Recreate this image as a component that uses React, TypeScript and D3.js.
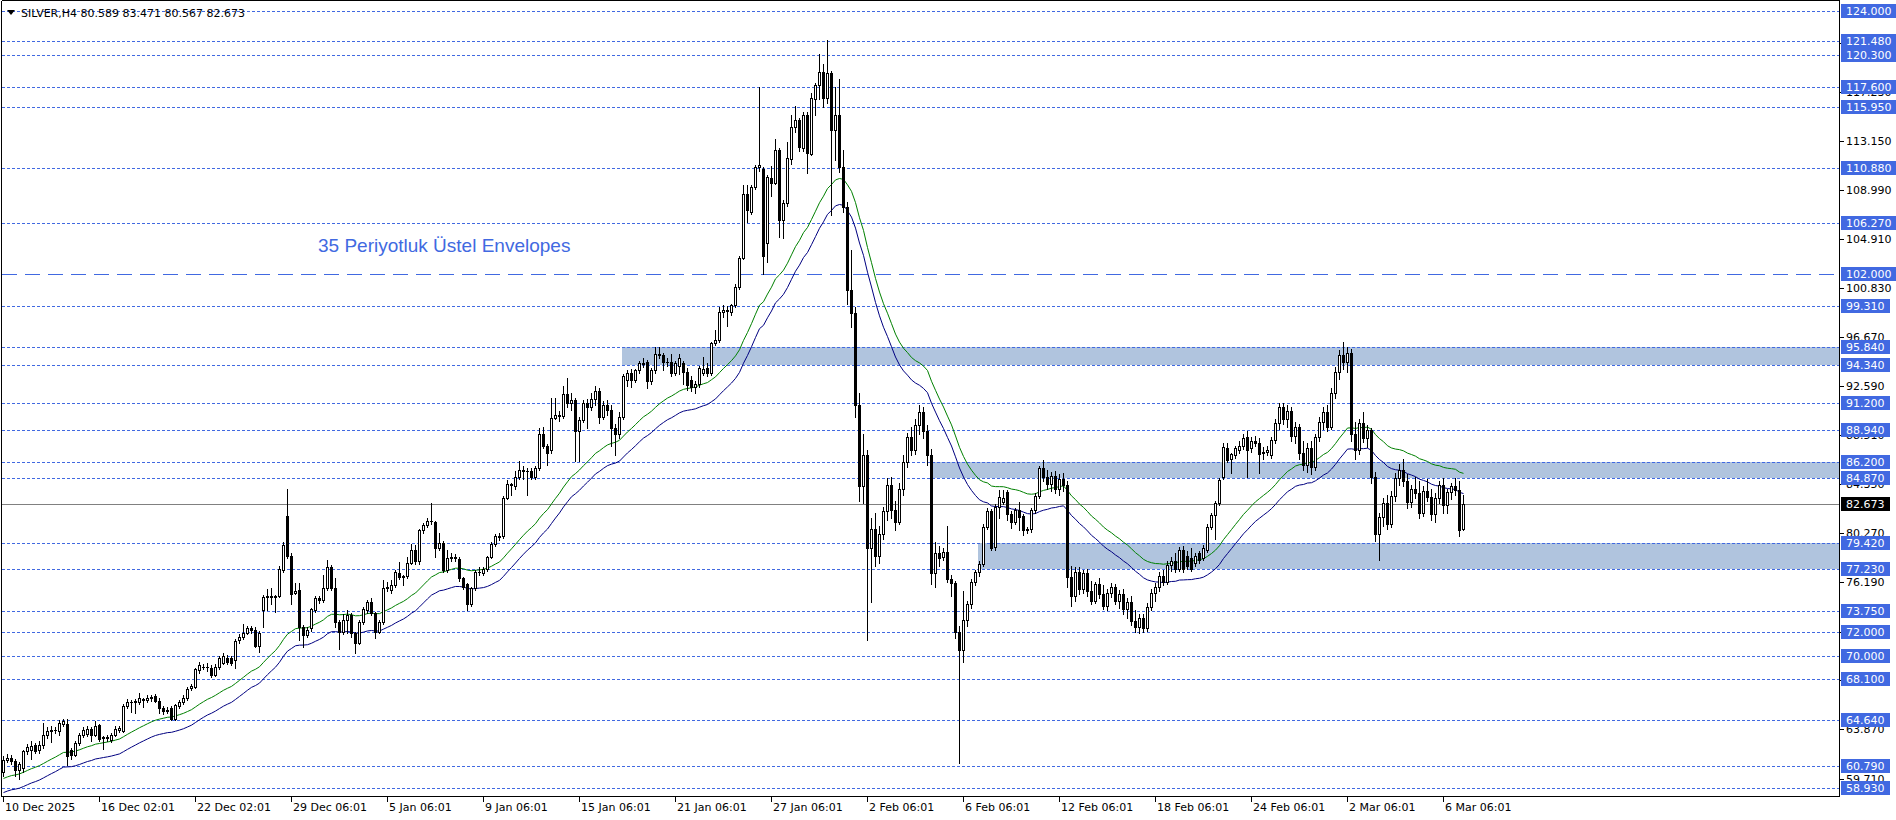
import React from 'react';
import * as d3 from 'd3';

// ---------- DATA ----------
// OHLC per H4 bar, [open, high, low, close]
const candles10Dec: [number, number, number, number][] = [
  [60.3,61.6,59.9,61.3],[61.3,61.8,61.1,61.45],[61.45,61.7,60.9,61.2],[61.2,61.4,59.9,60.4],[60.4,61.1,59.7,60.9],
  [60.6,62.1,60.3,62.0],[62.0,62.6,61.8,62.4],[62.1,62.9,61.4,62.45],[62.5,62.7,61.9,62.05],[62.1,62.9,61.9,62.5],
  [62.5,64.4,62.3,63.4],[63.4,64.0,63.1,63.7],[63.7,64.1,62.8,63.8],[63.8,64.0,63.5,63.75],[63.7,64.6,63.4,64.4],
  [64.3,64.7,64.1,64.5],[64.3,64.7,60.85,61.6],[62.1,62.3,61.4,61.7],[61.7,62.9,61.6,62.7],[62.7,63.5,62.5,63.35],
  [63.35,64.0,63.2,63.8],[63.45,64.1,63.3,63.85],[63.85,64.0,62.9,63.35],[63.4,64.5,63.3,64.15],[64.2,64.3,62.9,63.0],
  [63.1,63.3,62.2,63.2],[63.2,63.4,62.9,63.15],[62.95,63.5,62.8,63.4],[63.4,64.1,63.3,63.85],[63.75,64.1,63.6,63.95],
  [63.7,66.0,63.6,65.8],[65.8,66.4,65.6,66.15],[66.1,66.3,65.3,66.15],[66.15,66.4,65.2,66.2],[66.15,66.9,66.0,66.45],
  [66.4,66.5,65.7,66.3],[66.3,66.7,66.1,66.5],[66.45,66.7,66.2,66.55],[66.6,66.8,66.1,66.25],[66.2,66.5,65.2,65.6],
  [65.6,65.8,65.1,65.4],[65.4,65.7,65.2,65.5],[65.6,65.8,64.6,64.7],[64.7,66.0,64.6,65.85],[65.8,66.3,65.6,66.15],
  [66.1,66.7,66.0,66.45],[66.45,67.4,66.3,67.2],[67.3,67.6,67.1,67.45],[67.4,69.0,67.3,68.9],[68.8,69.5,68.6,69.2],
  [69.1,69.3,68.9,69.05],[69.1,69.4,68.7,69.05],[69.0,69.2,68.2,68.4],[68.4,69.3,68.3,69.1],[69.1,70.0,68.9,69.85],
  [69.4,70.2,69.3,69.95],[69.85,70.1,69.3,69.45],[69.85,70.0,69.2,69.4],[69.65,71.4,68.95,71.2],[71.3,71.8,71.1,71.6],
  [71.55,72.7,71.4,71.9],[71.9,72.5,71.8,72.3],[72.3,72.5,71.9,72.2],[72.15,72.4,70.7,70.8],[70.8,72.1,70.35,71.9],
  [73.8,75.1,72.4,74.95],[74.95,75.6,73.8,75.05],[75.0,75.65,74.3,74.95],[74.95,75.1,73.7,75.0],[75.0,77.5,74.9,77.3],
  [77.2,79.5,77.0,79.3],[81.7,84.0,78.2,78.4],[78.4,78.6,74.3,75.2],[75.3,76.1,75.2,75.45],[75.55,76.1,71.3,72.45],
  [72.45,72.6,70.75,71.75],[71.75,72.4,71.6,72.15],[72.3,74.0,72.1,73.9],[73.85,75.0,73.7,74.8],[74.8,75.0,74.4,74.7],
  [74.7,76.75,74.5,75.65],[75.65,78.05,75.5,77.45],[77.45,77.6,75.5,75.65],[75.65,76.5,72.4,72.85],[72.85,73.0,70.6,72.0],
  [72.0,73.5,71.8,73.0],[73.0,73.8,71.9,73.4],[73.4,73.6,71.6,71.9],[71.9,72.0,70.2,71.05],[71.1,73.0,71.0,72.85],
  [72.85,74.1,72.7,73.95],[73.8,74.7,73.6,74.5],[74.5,74.8,73.4,73.55],[73.55,73.7,71.5,72.0],[72.0,73.0,71.9,72.85],
  [72.85,76.35,72.7,75.7],
];
const candles5Jan: [number, number, number, number][] = [
  [75.7,76.2,75.4,75.75],[75.5,76.35,75.3,75.95],[75.95,77.2,75.8,77.0],[76.9,77.85,76.4,76.6],[76.6,76.8,75.9,76.65],
  [76.7,78.3,76.5,77.8],[77.8,79.4,77.7,78.9],[78.9,79.3,77.7,77.9],[77.9,80.6,77.7,80.5],[80.5,81.1,80.3,80.95],
  [80.95,81.5,80.8,81.3],[81.3,82.8,81.0,81.25],[81.2,81.3,78.3,79.0],[79.0,80.25,78.9,79.45],[79.45,79.6,77.0,77.2],
  [77.2,78.9,77.0,78.15],[78.2,78.6,77.9,78.3],[78.3,78.5,77.9,78.2],[78.1,78.3,76.3,76.5],[76.5,76.6,75.6,75.8],
  [76.0,76.1,73.8,74.35],[74.35,75.8,74.2,75.65],[75.65,77.2,75.5,77.05],[77.05,77.45,76.8,77.0],[76.9,77.4,76.8,77.25],
  [77.25,78.4,77.1,78.3],[78.3,79.5,78.2,79.35],[79.35,80.2,79.2,80.05],[80.0,80.3,79.7,79.95],[80.0,83.4,79.9,83.25],
  [83.25,84.7,83.1,84.4],[84.4,84.5,83.5,84.3],[84.2,85.5,84.0,84.95],[84.95,86.3,84.8,85.55],[85.55,85.9,84.8,85.45],
  [85.45,85.7,83.5,85.5],[85.5,85.7,84.8,84.95],[84.95,85.9,84.8,85.7],[85.7,89.1,85.6,88.6],[88.6,89.2,87.4,87.55],
  [87.55,87.7,86.0,86.95],[87.2,91.6,87.0,89.95],[89.95,91.6,89.8,90.15],[90.15,90.5,89.7,90.1],[90.1,92.6,89.9,91.9],
  [91.9,93.3,90.8,91.2],[91.2,92.0,90.6,91.4],[91.4,91.6,86.3,88.8],[88.8,90.0,86.3,89.75],[89.75,91.4,89.6,91.15],
  [91.15,91.5,89.1,90.85],[90.85,92.0,90.6,91.5],[91.5,92.6,91.0,92.2],[92.2,92.4,89.5,90.0],[90.0,91.3,89.8,91.0],
  [91.0,91.4,90.2,90.6],[90.6,91.0,87.6,89.1],[89.1,89.4,86.8,88.6],[88.6,90.4,88.2,90.0],[90.0,93.6,89.8,93.4],
  [93.1,93.9,92.6,93.7],[93.7,94.0,92.5,93.1],[93.1,94.0,92.9,93.9],[93.9,94.7,93.7,94.5],[94.5,94.9,94.2,94.4],
  [94.6,94.8,92.4,93.0],[93.0,94.1,92.8,93.9],[93.9,95.9,93.7,95.3],[95.3,95.9,94.9,95.2],[95.2,95.4,93.9,94.6],
  [94.6,94.9,94.3,94.6],[94.6,95.3,93.4,93.65],[93.65,94.7,93.5,94.5],[94.3,95.3,93.6,94.9],[94.5,94.7,92.8,93.8],
  [93.8,94.1,92.25,92.7],[93.1,93.4,92.2,92.5],[92.5,93.0,92.0,92.8],[92.8,94.3,92.5,94.1],[93.7,95.0,93.5,94.0],
  [94.1,94.5,93.4,93.65],[93.65,96.3,93.5,96.2],[96.2,97.3,96.0,96.45],[96.45,99.2,96.3,98.8],[98.8,99.4,98.4,99.0],
  [99.0,99.3,97.6,98.9],[98.8,99.5,98.5,99.35],[99.35,101.1,99.2,100.86],[100.86,103.5,100.7,103.29],[103.3,109.4,103.2,108.65],
  [108.65,109.4,106.3,107.3],[107.2,109.4,107.0,109.3],[109.3,111.1,109.1,110.96],[110.96,117.6,110.6,111.1],[110.8,110.9,102.0,103.5],
  [104.6,110.3,103.0,110.1],
];
const candles27Jan: [number, number, number, number][] = [
  [110.0,111.0,108.5,109.6],[109.6,113.3,109.5,112.36],[112.36,112.5,105.1,106.5],[106.5,108.2,105.0,107.9],[107.9,113.0,107.7,111.66],
  [111.6,115.3,111.2,114.3],[114.3,116.05,113.9,114.87],[114.87,115.0,112.3,112.58],[112.5,115.5,112.3,115.29],[115.29,115.5,110.4,112.1],
  [112.0,117.1,111.9,116.7],[116.6,118.0,115.3,117.8],[117.8,120.4,116.6,118.86],[118.9,119.6,116.0,116.7],[116.7,121.54,116.3,118.8],
  [118.8,119.0,106.9,114.0],[114.0,117.6,111.5,115.3],[115.3,118.3,110.5,110.9],[110.9,112.4,107.2,107.6],[107.6,108.0,99.5,100.6],
  [100.6,104.0,97.5,98.7],[98.7,99.2,90.0,91.0],[91.0,92.0,83.0,84.2],[84.2,88.6,82.8,86.8],[86.8,87.2,71.3,79.0],
  [79.0,81.5,74.5,80.6],[80.6,82.0,77.5,78.4],[78.4,80.9,77.8,80.2],[80.2,82.5,79.8,82.1],[82.1,84.9,81.4,84.3],
  [84.3,85.0,81.5,82.2],[82.2,83.0,80.5,81.2],[81.2,84.5,81.0,84.0],[84.0,86.8,83.5,86.2],[86.2,88.7,85.8,88.3],
  [88.3,89.2,86.8,87.2],[87.2,89.8,86.9,89.3],[89.3,91.0,88.6,90.4],[90.4,90.8,88.2,88.8],[88.8,89.3,86.0,86.8],
  [86.8,87.3,76.0,76.9],[76.9,79.5,75.8,78.6],[78.6,79.2,77.5,78.2],[78.3,79.0,78.0,78.7],[78.7,80.9,76.2,76.4],
  [76.4,76.8,75.0,76.1],[76.1,76.3,71.5,72.0],[72.0,72.5,61.0,70.5],[70.5,75.4,69.5,73.0],[73.0,74.6,72.5,74.3],
  [74.3,76.4,74.0,76.2],[76.2,77.2,75.9,77.0],[77.0,77.9,76.7,77.7],[77.7,81.0,77.5,80.8],[80.8,82.35,80.6,82.1],
  [82.1,82.3,78.9,79.0],[79.1,82.7,78.9,82.5],[82.5,83.9,81.5,83.3],[82.9,83.9,82.7,83.2],[83.7,83.9,81.4,81.9],
  [81.9,82.1,80.7,81.2],[81.2,82.4,81.0,82.2],[82.2,82.9,80.5,81.6],[81.7,81.9,80.1,80.5],[80.5,80.8,80.3,80.6],
  [80.6,82.35,80.4,82.2],[82.2,83.6,82.0,83.4],[83.4,85.9,83.2,85.7],[85.7,86.4,84.6,85.0],[85.0,85.6,84.0,84.4],
  [84.4,85.4,83.8,85.1],[85.1,85.5,83.6,84.0],[84.0,85.2,83.5,84.8],[84.8,85.3,83.8,84.3],[84.3,84.6,75.8,76.6],
  [76.6,77.5,74.2,75.0],[75.0,77.4,74.6,77.0],[77.0,77.4,75.2,75.6],[75.6,77.2,75.3,76.9],[76.9,77.3,75.0,75.4],
  [75.4,76.3,74.3,74.6],[74.6,76.2,74.4,76.0],[76.0,76.5,74.8,75.2],[75.2,75.9,73.9,74.2],[74.2,75.6,73.8,75.3],
  [75.3,76.1,74.9,75.8],[75.8,76.0,74.3,74.6],[74.6,75.5,74.0,75.2],[75.2,75.6,73.5,73.9],[73.9,74.8,73.2,74.5],
  [74.5,75.0,72.6,72.9],[72.9,73.8,72.0,72.4],[72.4,73.5,71.9,73.2],[73.2,73.5,72.0,72.3],[72.3,74.4,72.1,74.1],
  [74.1,75.6,73.8,75.3],
];
const candles18Feb: [number, number, number, number][] = [
  [75.3,76.1,74.6,75.8],[75.8,77.0,75.4,76.7],[76.7,77.2,75.9,76.2],[76.2,77.9,76.0,77.6],[77.6,78.3,77.1,77.9],
  [77.9,78.6,77.0,77.3],[77.3,79.1,77.1,78.9],[78.9,79.2,77.0,77.3],[78.4,78.8,77.3,77.5],[78.2,79.0,77.1,77.3],
  [77.8,78.6,77.5,78.4],[78.6,78.8,77.8,78.0],[78.2,79.3,78.0,79.0],[78.9,81.0,78.7,80.8],[80.8,82.0,80.6,81.8],
  [81.8,83.0,79.8,82.8],[82.8,84.9,82.6,84.7],[85.0,87.8,84.8,87.5],[87.4,87.8,86.2,86.4],[86.5,87.0,85.3,86.9],
  [86.8,87.6,86.6,87.4],[87.2,88.0,87.0,87.6],[87.6,88.6,87.3,88.2],[88.3,88.8,85.0,87.2],[87.4,88.3,87.1,88.0],
  [88.0,88.4,87.6,87.8],[87.8,88.2,85.3,86.9],[87.0,87.5,86.5,87.1],[87.1,87.6,86.8,87.2],[86.8,88.3,86.6,88.1],
  [88.1,89.8,87.8,89.5],[89.5,91.2,89.0,90.8],[90.8,91.2,89.4,89.8],[89.8,91.0,89.2,90.5],[90.5,90.8,88.0,88.4],
  [88.4,89.6,87.8,89.2],[89.2,89.4,86.5,87.0],[87.0,88.0,85.6,86.0],[86.0,87.8,85.4,87.4],[87.4,88.0,85.2,85.8],
  [85.8,88.6,85.6,88.3],[88.3,90.0,88.0,89.6],[89.6,90.8,89.0,90.4],[90.4,91.0,88.8,89.2],[89.2,92.4,89.0,92.0],
  [92.0,94.2,91.6,93.8],[93.8,95.6,93.2,95.2],[95.2,96.3,94.0,94.6],[94.6,95.9,93.8,95.4],[95.4,95.7,88.0,88.6],
  [88.6,89.6,86.5,87.2],[87.2,89.8,86.9,89.5],[89.5,90.4,87.9,88.2],[88.2,89.3,87.5,88.9],[88.9,89.1,84.5,85.0],
  [85.0,85.4,79.6,80.2],[80.2,82.0,78.0,81.6],[81.6,83.2,80.9,82.8],[82.8,83.5,80.6,81.0],[81.0,83.8,80.8,83.4],
  [83.4,85.3,83.0,84.9],[84.9,86.1,84.3,85.6],[85.6,86.5,84.2,84.6],[84.6,85.2,82.4,82.9],[82.9,84.3,82.5,84.0],
  [84.0,85.0,83.2,83.6],[83.6,84.6,81.5,82.0],[82.0,84.2,81.7,83.8],[83.8,84.8,83.0,83.3],[83.3,84.0,81.4,81.9],
  [81.9,83.6,81.2,83.2],[83.2,84.6,82.8,84.3],[84.3,84.9,82.0,82.6],[82.6,84.0,82.0,83.7],[83.7,84.5,83.1,84.2],
  [84.2,84.9,83.5,83.9],[83.9,84.6,80.0,80.5],[80.589,83.471,80.567,82.673],
];

const headerText = 'SILVER,H4  80.589 83.471 80.567 82.673';
const annotationText = '35 Periyotluk Üstel Envelopes';
const currentPrice = 82.673;

// horizontal price levels drawn on the chart
const levelLines: number[] = [124, 121.48, 120.3, 117.6, 115.95, 110.88, 106.27, 99.31, 95.84, 94.34, 91.2, 88.94, 86.2, 84.87, 79.42, 77.23, 73.75, 72, 70, 68.1, 64.64, 60.79, 58.93];
const longDashLevels: number[] = [102];
// price zones: [fromPrice, toPrice, starting bar index]
const zones: [number, number, number][] = [[94.34, 95.84, 155], [84.87, 86.2, 232], [77.23, 79.42, 244]];
// automatic price scale ticks
const scaleTicks: number[] = [121.31, 117.23, 113.15, 108.99, 104.91, 100.83, 96.67, 92.59, 88.51, 84.35, 80.27, 76.19, 72.03, 67.95, 63.87, 59.71];
// time axis labels (every 24 bars)
const timeLabels: string[] = ['10 Dec 2025', '16 Dec 02:01', '22 Dec 02:01', '29 Dec 06:01', '5 Jan 06:01', '9 Jan 06:01', '15 Jan 06:01', '21 Jan 06:01', '27 Jan 06:01', '2 Feb 06:01', '6 Feb 06:01', '12 Feb 06:01', '18 Feb 06:01', '24 Feb 06:01', '2 Mar 06:01', '6 Mar 06:01'];
const BARS_PER_LABEL = 24;
// envelope settings (35-period EMA envelopes)
const EMA_PERIOD = 35;
const EMA_SEED = 59.14;
const ENV_DEV = 0.01;

const BLUE = '#4169E1';
const FONT = "'DejaVu Sans', Verdana, sans-serif";

export default function App() {
  const candles = [...candles10Dec, ...candles5Jan, ...candles27Jan, ...candles18Feb];
  const x = d3.scaleLinear().domain([0, 1]).range([3.5, 7.5]);
  const y = d3.scaleLinear().domain([58.93, 124]).range([788, 11]);
  const sy = (p: number) => Math.round(y(p)) + 0.5;

  const PL = 1.5, PR = 1839.5, PB = 796.5, PT = 0.5;

  const alpha = 2 / (EMA_PERIOD + 1);
  const ema: number[] = [];
  candles.forEach((c, i) => {
    ema.push(i === 0 ? EMA_SEED : ema[i - 1] + alpha * (c[3] - ema[i - 1]));
  });
  const lineGen = (k: number) =>
    d3.line<number>().x((_, i) => x(i)).y((v) => y(v * k))(ema) || '';

  const tickIdx = d3.range(timeLabels.length).map((k) => k * BARS_PER_LABEL);
  const boxW = (s: string) => 13 + s.length * 6;

  return (
    <svg width={1896} height={820} style={{ position: 'absolute', left: 0, top: 0, display: 'block', background: '#fff' }}>
      <rect x={0} y={0} width={1896} height={820} fill="#fff" />
      {/* zones */}
      <g shapeRendering="crispEdges">
        {zones.map(([a, b, s], k) => (
          <rect key={k} x={Math.floor(x(s)) - 1} y={Math.round(y(b))} width={PR - (Math.floor(x(s)) - 1)} height={Math.round(y(a)) - Math.round(y(b))} fill="#B0C4DE" />
        ))}
      </g>
      {/* level lines */}
      <g shapeRendering="crispEdges">
        {levelLines.map((p, k) => (
          <line key={k} x1={PL} x2={PR} y1={sy(p)} y2={sy(p)} stroke={BLUE} strokeWidth={1} strokeDasharray="3,2" />
        ))}
        {longDashLevels.map((p, k) => (
          <line key={'l' + k} x1={PL} x2={PR} y1={sy(p)} y2={sy(p)} stroke={BLUE} strokeWidth={1} strokeDasharray="15,8" />
        ))}
        <line x1={PL} x2={PR} y1={sy(currentPrice)} y2={sy(currentPrice)} stroke="#808080" strokeWidth={1} />
      </g>
      {/* envelopes */}
      <path d={lineGen(1 + ENV_DEV)} fill="none" stroke="#008000" strokeWidth={1} />
      <path d={lineGen(1 - ENV_DEV)} fill="none" stroke="#000080" strokeWidth={1} />
      {/* candles */}
      <g shapeRendering="crispEdges">
        {candles.map(([o, h, l, c], i) => {
          const col = Math.floor(x(i));
          const top = Math.round(y(Math.max(o, c)));
          const bot = Math.round(y(Math.min(o, c)));
          const bull = c >= o;
          return (
            <g key={i}>
              <line x1={col + 0.5} x2={col + 0.5} y1={Math.round(y(h))} y2={Math.round(y(l)) + 1} stroke="#000" strokeWidth={1} />
              {bot - top < 1 ? (
                <line x1={col - 1} x2={col + 2} y1={top + 0.5} y2={top + 0.5} stroke="#000" strokeWidth={1} />
              ) : (
                <rect x={col - 0.5} y={top + 0.5} width={2} height={bot - top} fill={bull ? '#fff' : '#000'} stroke="#000" strokeWidth={1} />
              )}
            </g>
          );
        })}
      </g>
      {/* annotation */}
      <text x={318} y={252} fontFamily="'Liberation Sans', Arial, sans-serif" fontSize={19} fill={BLUE}>{annotationText}</text>
      {/* header */}
      <path d="M7,10 L15,10 L11,15 Z" fill="#000" />
      <text x={21} y={17} fontFamily={FONT} fontSize={11} fill="#000">{headerText}</text>
      {/* frame */}
      <g shapeRendering="crispEdges">
        <line x1={PL} x2={PL} y1={PT} y2={PB} stroke="#000" />
        <line x1={PL} x2={PR} y1={PT} y2={PT} stroke="#000" />
        <line x1={PR} x2={PR} y1={PT} y2={PB} stroke="#000" />
        <line x1={PL} x2={PR} y1={PB} y2={PB} stroke="#000" />
        {tickIdx.map((b, k) => (
          <line key={k} x1={Math.floor(x(b)) + 0.5} x2={Math.floor(x(b)) + 0.5} y1={PB} y2={PB + 5} stroke="#000" />
        ))}
        {scaleTicks.map((p, k) => (
          <line key={'t' + k} x1={PR} x2={PR + 4} y1={sy(p)} y2={sy(p)} stroke="#000" />
        ))}
      </g>
      {/* time labels */}
      {timeLabels.map((t, k) => (
        <text key={k} x={Math.floor(x(tickIdx[k])) + 2} y={811} fontFamily={FONT} fontSize={11} fill="#000">{t}</text>
      ))}
      {/* scale labels */}
      {scaleTicks.map((p, k) => (
        <text key={k} x={1846} y={y(p) + 4} fontFamily={FONT} fontSize={11} fill="#000">{p.toFixed(3)}</text>
      ))}
      {/* level labels */}
      <g>
        {[...levelLines, ...longDashLevels].map((p, k) => (
          <g key={k}>
            <rect x={1841} y={Math.round(y(p)) - 7} width={boxW(p.toFixed(3))} height={14} fill={BLUE} shapeRendering="crispEdges" />
            <text x={1846} y={y(p) + 4} fontFamily={FONT} fontSize={11} fill="#fff">{p.toFixed(3)}</text>
          </g>
        ))}
        <rect x={1841} y={Math.round(y(currentPrice)) - 7} width={boxW(currentPrice.toFixed(3))} height={14} fill="#000" shapeRendering="crispEdges" />
        <text x={1846} y={y(currentPrice) + 4} fontFamily={FONT} fontSize={11} fill="#fff">{currentPrice.toFixed(3)}</text>
      </g>
    </svg>
  );
}
